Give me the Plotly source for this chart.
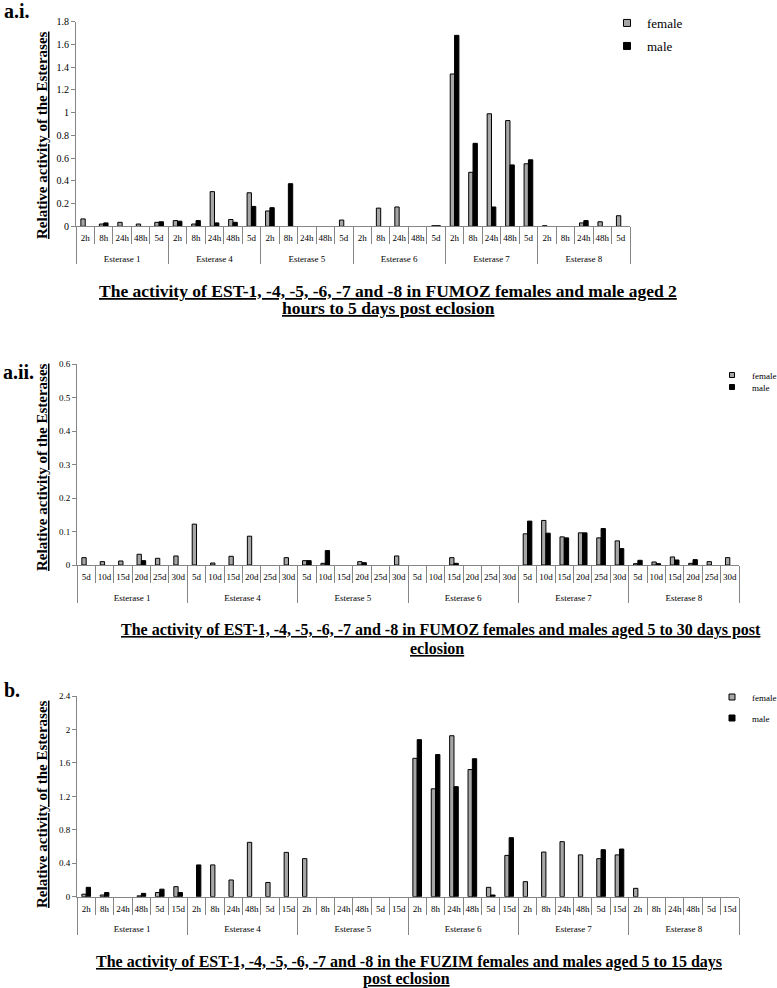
import plotly.graph_objects as go

W, H = 777, 988
SERIF = "Liberation Serif"

groups = ["Esterase 1", "Esterase 4", "Esterase 5", "Esterase 6", "Esterase 7", "Esterase 8"]

# Panel a.i. (FUMOZ, 2 h to 5 d)
ai_times = ["2h", "8h", "24h", "48h", "5d"]
ai_female = [0.065, 0.02, 0.035, 0.02, 0.035,
             0.05, 0.02, 0.305, 0.06, 0.295,
             0.135, 0, 0, 0, 0.055,
             0, 0.16, 0.17, 0, 0.005,
             1.34, 0.475, 0.99, 0.93, 0.55,
             0.005, 0, 0.03, 0.04, 0.093]
ai_male = [0, 0.03, 0, 0, 0.04,
           0.045, 0.05, 0.03, 0.035, 0.175,
           0.164, 0.375, 0, 0, 0,
           0, 0, 0, 0, 0.005,
           1.68, 0.73, 0.17, 0.54, 0.585,
           0, 0, 0.05, 0, 0]

# Panel a.ii. (FUMOZ, 5 to 30 d)
aii_times = ["5d", "10d", "15d", "20d", "25d", "30d"]
aii_female = [0.022, 0.01, 0.012, 0.032, 0.02, 0.027,
              0.122, 0.006, 0.026, 0.086, 0, 0.022,
              0.013, 0.005, 0, 0.01, 0, 0.027,
              0, 0, 0.022, 0, 0, 0,
              0.093, 0.133, 0.084, 0.096, 0.081, 0.072,
              0.004, 0.009, 0.024, 0.005, 0.01, 0.022]
aii_male = [0, 0, 0, 0.013, 0, 0,
            0, 0, 0, 0, 0, 0,
            0.013, 0.043, 0, 0.007, 0, 0,
            0, 0, 0.005, 0, 0, 0,
            0.131, 0.095, 0.081, 0.096, 0.109, 0.049,
            0.014, 0.004, 0.015, 0.016, 0, 0]

# Panel b. (FUZIM)
b_times = ["2h", "8h", "24h", "48h", "5d", "15d"]
b_female = [0.03, 0.02, 0, 0.01, 0.05, 0.12,
            0, 0.38, 0.2, 0.65, 0.17, 0.53,
            0.455, 0, 0, 0, 0, 0,
            1.655, 1.29, 1.925, 1.52, 0.112, 0.494,
            0.18, 0.534, 0.658, 0.5, 0.455, 0.5,
            0.1, 0, 0, 0, 0, 0]
b_male = [0.112, 0.05, 0, 0.04, 0.09, 0.05,
          0.38, 0, 0, 0, 0, 0,
          0, 0, 0, 0, 0, 0,
          1.878, 1.70, 1.316, 1.65, 0.02, 0.706,
          0, 0, 0, 0, 0.562, 0.57,
          0, 0, 0, 0, 0, 0]

FEMALE_COLOR = "#a6a6a6"
MALE_COLOR = "#000000"
AXIS_COLOR = "#868686"


def px_x(v):
    return v / W


def px_y(v):
    return 1 - v / H


def mc(times):
    # leading line break pushes the group row a little lower, as in the original
    g = ["<br>" + grp for grp in groups for _ in times]
    t = [tm for _ in groups for tm in times]
    return [g, t]


def nz(vals):
    return [v if v else None for v in vals]


fig = go.Figure()

panels = [
    # suffix, tick-axis suffix, times, female, male, x0, x1, y_zero_px, y_top_px, ymax, dtick, tickfont
    ("", "4", ai_times, ai_female, ai_male, 76, 630, 226.3, 21.7, 1.8, 0.2, 10),
    ("2", "5", aii_times, aii_female, aii_male, 77, 739, 565, 364, 0.6, 0.1, 9),
    ("3", "6", b_times, b_female, b_male, 77, 739, 896.7, 696, 2.4, 0.4, 9),
]

for suf, tsuf, times, fem, mal, x0, x1, yz, yt, ymax, dt, tf in panels:
    xs = mc(times)
    ncat = len(groups) * len(times)
    fig.add_trace(go.Bar(x=xs, y=nz(fem), name="female", xaxis="x" + suf, yaxis="y" + suf,
                         marker=dict(color=FEMALE_COLOR, line=dict(color="#000000", width=1)),
                         showlegend=False))
    fig.add_trace(go.Bar(x=xs, y=nz(mal), name="male", xaxis="x" + suf, yaxis="y" + suf,
                         marker=dict(color=MALE_COLOR, line=dict(color="#000000", width=1)),
                         showlegend=False))
    # empty trace so that the helper tick axis is drawn
    fig.add_trace(go.Scatter(x=[None], y=[None], mode="markers", showlegend=False,
                             hoverinfo="skip", xaxis="x" + tsuf, yaxis="y" + suf))
    fig.update_layout(**{
        "xaxis" + suf: dict(
            domain=[px_x(x0), px_x(x1)], anchor="y" + suf, type="multicategory",
            showline=True, linecolor=AXIS_COLOR, linewidth=1,
            ticks="", ticklabelstandoff=3, tickangle=0,
            tickfont=dict(family=SERIF, size=9, color="#000000"),
            showdividers=True, dividercolor=AXIS_COLOR, dividerwidth=1,
            showgrid=False, zeroline=False),
        # helper axis drawing the tick marks at category boundaries
        "xaxis" + tsuf: dict(
            overlaying="x" + suf, anchor="y" + suf, side="bottom", type="linear",
            range=[-0.5, ncat - 0.5], tickmode="linear", tick0=-0.5, dtick=1,
            ticks="outside", ticklen=17, tickcolor=AXIS_COLOR, tickwidth=1,
            showticklabels=False, showline=False, showgrid=False, zeroline=False),
        "yaxis" + suf: dict(
            domain=[px_y(yz), px_y(yt)], anchor="x" + suf, range=[0, ymax], dtick=dt,
            showline=True, linecolor=AXIS_COLOR, linewidth=1,
            ticks="outside", ticklen=4, tickcolor=AXIS_COLOR,
            tickfont=dict(family=SERIF, size=tf, color="#000000"),
            showgrid=False, zeroline=False),
    })

# legend-only entries (hidden axis)
legend_specs = [
    ("legend", "female", FEMALE_COLOR, 7, 607, 23, 13),
    ("legend2", "male", MALE_COLOR, 7, 607, 46, 13),
    ("legend3", "female", FEMALE_COLOR, 5, 712, 375, 9),
    ("legend4", "male", MALE_COLOR, 5, 712, 387, 9),
    ("legend5", "female", FEMALE_COLOR, 6, 712, 697, 9),
    ("legend6", "male", MALE_COLOR, 6, 712, 718, 9),
]
for lg, name, col, sz, lx, ly, fs in legend_specs:
    fig.add_trace(go.Scatter(x=[None], y=[None], mode="markers", name=name,
                             xaxis="x7", yaxis="y7", legend=lg,
                             marker=dict(symbol="square", size=sz, color=col,
                                         line=dict(color="#000000", width=1))))
    fig.update_layout(**{lg: dict(x=px_x(lx), y=px_y(ly), xanchor="left", yanchor="middle",
                                  bgcolor="rgba(0,0,0,0)", borderwidth=0,
                                  font=dict(family=SERIF, size=fs, color="#000000"),
                                  itemwidth=30)})

fig.update_layout(
    xaxis7=dict(visible=False, domain=[0, 0.01], anchor="y7"),
    yaxis7=dict(visible=False, domain=[0, 0.01], anchor="x7"),
)

annotations = []


def ann(text, x, y, size, xanchor="center", angle=0):
    annotations.append(dict(text=text, x=px_x(x), y=px_y(y), xref="paper", yref="paper",
                            xanchor=xanchor, yanchor="middle", showarrow=False,
                            textangle=angle, borderpad=0,
                            font=dict(family=SERIF, size=size, color="#000000")))


# panel labels
ann("<b>a.i.</b>", 3, 11, 20, "left")
ann("<b>a.ii.</b>", 2, 372, 20, "left")
ann("<b>b.</b>", 3, 690, 20, "left")

# y-axis titles
ytitle = "<b><u>Relative activity of the Esterases</u></b>"
ann(ytitle, 42, 135, 15, "center", -90)
ann(ytitle, 42, 467, 15, "center", -90)
ann(ytitle, 42, 804, 15, "center", -90)

# panel titles
ann("<b><u>The activity of EST-1, -4, -5, -6, -7 and -8 in FUMOZ females and male aged 2</u></b>", 388, 291, 17.5)
ann("<b><u>hours to 5 days post eclosion</u></b>", 388, 308, 17.5)
ann("<b><u>The activity of EST-1, -4, -5, -6, -7 and -8 in FUMOZ females and males aged 5 to 30 days post</u></b>", 441, 630, 16)
ann("<b><u>eclosion</u></b>", 437, 648, 16)
ann("<b><u>The activity of EST-1, -4, -5, -6, -7 and -8 in the FUZIM females and males aged 5 to 15 days</u></b>", 409, 962, 16)
ann("<b><u>post eclosion</u></b>", 406, 979, 16)

fig.update_layout(
    width=W, height=H,
    margin=dict(l=0, r=0, t=0, b=0, autoexpand=False),
    paper_bgcolor="#ffffff", plot_bgcolor="#ffffff",
    barmode="group", bargap=0.53, bargroupgap=0,
    font=dict(family=SERIF, color="#000000"),
    annotations=annotations,
)

fig.write_html("out.html", config={"displayModeBar": False},
               post_script="document.body.style.margin='0';document.body.style.padding='0';")
